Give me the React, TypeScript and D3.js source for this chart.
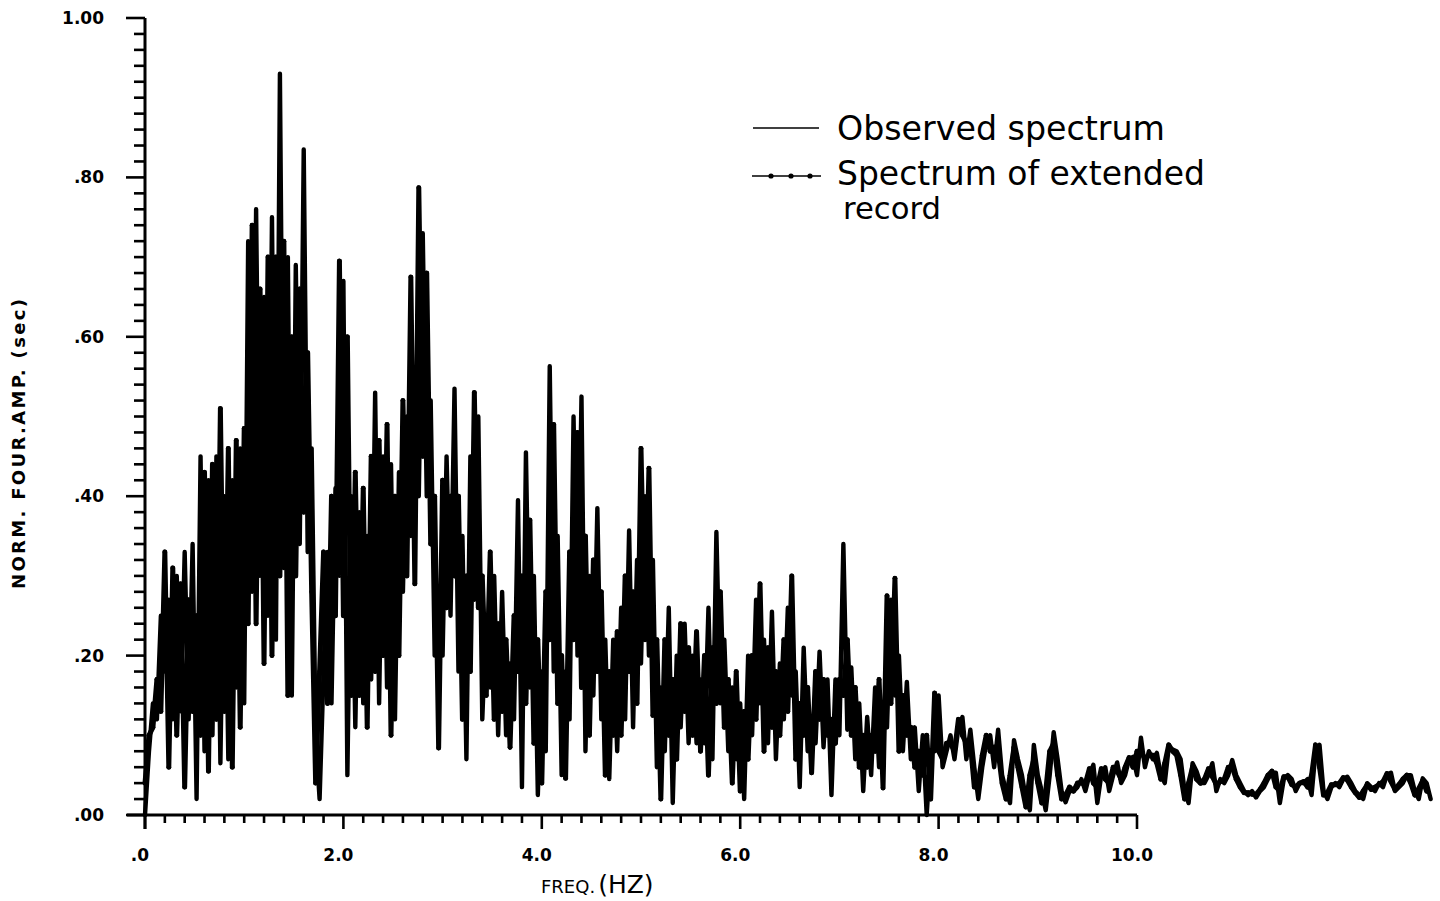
import React from "react";
import * as d3 from "d3";

const FREQ_STEP = 0.04;
const EXT_OFFSET = 0;

// Observed spectrum, normalised Fourier amplitude (sec)
const observedAmp = [
  0.00, 0.08, 0.14, 0.12, 0.25, 0.18, 0.27, 0.12, 0.30, 0.13,
  0.33, 0.12, 0.34, 0.02, 0.45, 0.08, 0.42, 0.10, 0.45, 0.065,
  0.40, 0.07, 0.42, 0.16, 0.46, 0.14, 0.72, 0.28, 0.76, 0.30,
  0.65, 0.25, 0.75, 0.22, 0.93, 0.31, 0.70, 0.15, 0.69, 0.34,
  0.835, 0.33, 0.46, 0.10, 0.02, 0.18, 0.33, 0.14, 0.41, 0.30,
  0.67, 0.05, 0.40, 0.11, 0.38, 0.14, 0.35, 0.17, 0.53, 0.14,
  0.45, 0.16, 0.44, 0.12, 0.43, 0.28, 0.50, 0.35, 0.56, 0.40,
  0.73, 0.40, 0.52, 0.20, 0.28, 0.20, 0.45, 0.25, 0.535, 0.18,
  0.35, 0.07, 0.45, 0.27, 0.50, 0.12, 0.25, 0.16, 0.30, 0.10,
  0.28, 0.10, 0.19, 0.12, 0.395, 0.035, 0.455, 0.16, 0.30, 0.025,
  0.18, 0.08, 0.563, 0.18, 0.35, 0.05, 0.18, 0.12, 0.50, 0.20,
  0.525, 0.08, 0.30, 0.15, 0.385, 0.12, 0.22, 0.045, 0.22, 0.08,
  0.26, 0.12, 0.357, 0.11, 0.32, 0.19, 0.40, 0.20, 0.32, 0.06,
  0.16, 0.08, 0.26, 0.015, 0.20, 0.11, 0.24, 0.09, 0.20, 0.09,
  0.17, 0.09, 0.26, 0.07, 0.355, 0.14, 0.22, 0.08, 0.16, 0.07,
  0.14, 0.02, 0.20, 0.10, 0.27, 0.14, 0.22, 0.09, 0.255, 0.07,
  0.19, 0.12, 0.26, 0.15, 0.18, 0.035, 0.21, 0.08, 0.12, 0.09,
  0.205, 0.085, 0.17, 0.025, 0.17, 0.10, 0.34, 0.107, 0.185, 0.07,
  0.14, 0.03, 0.123, 0.05, 0.16, 0.06, 0.12, 0.11, 0.27, 0.15,
  0.20, 0.08, 0.167, 0.07, 0.11, 0.03, 0.10, 0.00, 0.08, 0.08,
  0.15,
  0.06, 0.08, 0.10, 0.07, 0.11, 0.123, 0.07, 0.107, 0.06, 0.02,
  0.06, 0.09, 0.10, 0.06, 0.107, 0.05, 0.03, 0.015, 0.094, 0.07,
  0.05, 0.02, 0.006, 0.088, 0.05, 0.03, 0.006, 0.05, 0.104, 0.07,
  0.03, 0.016, 0.03, 0.03, 0.035, 0.045, 0.03, 0.05, 0.063, 0.015,
  0.05, 0.06, 0.03, 0.05, 0.066, 0.04, 0.05, 0.07, 0.073, 0.05,
  0.097, 0.06, 0.08, 0.07, 0.078, 0.05, 0.04, 0.085, 0.082, 0.08,
  0.07, 0.03, 0.015, 0.065, 0.055, 0.04, 0.04, 0.05, 0.065, 0.03,
  0.045, 0.04, 0.05, 0.069, 0.05, 0.04, 0.03, 0.025, 0.03, 0.022,
  0.03, 0.035, 0.045, 0.053, 0.053, 0.015, 0.045, 0.05, 0.045, 0.03,
  0.04, 0.04, 0.045, 0.025, 0.08, 0.088, 0.03, 0.02, 0.035, 0.04,
  0.035, 0.045, 0.048, 0.04, 0.03, 0.025, 0.02, 0.04, 0.035, 0.03,
  0.04, 0.035, 0.05, 0.053, 0.03, 0.035, 0.04, 0.05, 0.05, 0.03,
  0.02, 0.046, 0.04, 0.02,
];

// Spectrum of extended record
const extendedAmp = [
  0.04, 0.10, 0.11, 0.17, 0.13, 0.33, 0.06, 0.31, 0.10, 0.29,
  0.035, 0.27, 0.13, 0.25, 0.10, 0.43, 0.055, 0.44, 0.12, 0.51,
  0.13, 0.46, 0.06, 0.47, 0.11, 0.485, 0.24, 0.74, 0.24, 0.66,
  0.19, 0.70, 0.20, 0.70, 0.30, 0.72, 0.15, 0.60, 0.30, 0.66,
  0.38, 0.58, 0.28, 0.04, 0.18, 0.33, 0.14, 0.40, 0.25, 0.695,
  0.25, 0.60, 0.15, 0.43, 0.15, 0.41, 0.11, 0.45, 0.18, 0.47,
  0.20, 0.49, 0.10, 0.40, 0.20, 0.52, 0.30, 0.675, 0.29, 0.787,
  0.45, 0.68, 0.34, 0.40, 0.084, 0.42, 0.26, 0.40, 0.30, 0.40,
  0.12, 0.30, 0.18, 0.53, 0.26, 0.30, 0.15, 0.33, 0.12, 0.24,
  0.13, 0.22, 0.085, 0.25, 0.18, 0.30, 0.14, 0.37, 0.09, 0.22,
  0.04, 0.28, 0.22, 0.49, 0.14, 0.20, 0.046, 0.33, 0.22, 0.48,
  0.16, 0.35, 0.10, 0.32, 0.18, 0.28, 0.05, 0.18, 0.10, 0.23,
  0.10, 0.30, 0.18, 0.28, 0.14, 0.46, 0.22, 0.435, 0.125, 0.22,
  0.02, 0.22, 0.10, 0.17, 0.07, 0.24, 0.13, 0.21, 0.10, 0.23,
  0.08, 0.20, 0.05, 0.21, 0.14, 0.28, 0.11, 0.17, 0.04, 0.18,
  0.03, 0.13, 0.07, 0.20, 0.12, 0.29, 0.08, 0.21, 0.11, 0.18,
  0.10, 0.22, 0.13, 0.30, 0.07, 0.14, 0.10, 0.16, 0.053, 0.18,
  0.12, 0.17, 0.10, 0.12, 0.09, 0.17, 0.15, 0.22, 0.10, 0.16,
  0.06, 0.10, 0.06, 0.10, 0.08, 0.17, 0.034, 0.275, 0.14, 0.297,
  0.08, 0.15, 0.10, 0.11, 0.06, 0.08, 0.05, 0.10, 0.02, 0.153,
  0.08,
  0.07, 0.09, 0.09, 0.08, 0.12, 0.10, 0.09, 0.09, 0.035, 0.04,
  0.075, 0.10, 0.08, 0.085, 0.08, 0.04, 0.02, 0.05, 0.085, 0.06,
  0.035, 0.01, 0.05, 0.07, 0.04, 0.015, 0.03, 0.08, 0.09, 0.05,
  0.02, 0.025, 0.035, 0.03, 0.04, 0.04, 0.04, 0.058, 0.04, 0.035,
  0.058, 0.045, 0.04, 0.06, 0.055, 0.045, 0.06, 0.072, 0.06, 0.08,
  0.08, 0.07, 0.075, 0.075, 0.065, 0.045, 0.065, 0.088, 0.08, 0.075,
  0.05, 0.02, 0.04, 0.06, 0.045, 0.04, 0.045, 0.058, 0.048, 0.038,
  0.042, 0.045, 0.06, 0.06, 0.045, 0.035, 0.028, 0.028, 0.026, 0.026,
  0.032, 0.04, 0.05, 0.055, 0.035, 0.03, 0.048, 0.048, 0.038, 0.035,
  0.04, 0.042, 0.035, 0.05, 0.088, 0.06, 0.025, 0.028, 0.038, 0.038,
  0.04, 0.047, 0.044, 0.035, 0.028, 0.022, 0.03, 0.038, 0.032, 0.035,
  0.038, 0.042, 0.052, 0.042, 0.032, 0.038, 0.045, 0.05, 0.04, 0.025,
  0.033, 0.043, 0.03,
];

const xTickValues = [0, 2, 4, 6, 8, 10];
const xTickLabels = [".0", "2.0", "4.0", "6.0", "8.0", "10.0"];
const yTickValues = [0, 0.2, 0.4, 0.6, 0.8, 1.0];
const yTickLabels = [".00", ".20", ".40", ".60", ".80", "1.00"];
const seriesNames = ["Observed spectrum", "Spectrum of extended", "record"];
const xAxisTitle = ["FREQ.", "(HZ)"];
const yAxisTitle = "NORM. FOUR.AMP. (sec)";

export default function App() {
  const x = d3.scaleLinear().domain([0, 10]).range([145, 1137]);
  const y = d3.scaleLinear().domain([0, 1]).range([815, 18]);

  const obsPts: [number, number][] = observedAmp.map((v, i) => [i * FREQ_STEP, v]);
  const extPts: [number, number][] = extendedAmp.map((v, i) => [i * FREQ_STEP + EXT_OFFSET, v]);

  const line = d3
    .line<[number, number]>()
    .x((d) => x(d[0]))
    .y((d) => y(d[1]));

  const xMinor = d3.range(0, 51).map((i) => i * 0.2);
  const yMinor = d3.range(0, 51).map((i) => i * 0.02);

  const tickFont = "'DejaVu Sans', sans-serif";

  return (
    <svg
      width={1440}
      height={901}
      viewBox="0 0 1440 901"
      style={{ position: "absolute", left: 0, top: 0, display: "block", background: "#fff" }}
    >
      <rect x={0} y={0} width={1440} height={901} fill="#fff" />

      {/* data */}
      <path
        d={line(extPts) || ""}
        fill="none"
        stroke="#000"
        strokeWidth={5}
        strokeLinejoin="round"
        strokeLinecap="round"
      />
      {extPts.map((d, i) => (
        <circle key={"e" + i} cx={x(d[0])} cy={y(d[1])} r={2.4} fill="#000" />
      ))}
      <path
        d={line(obsPts) || ""}
        fill="none"
        stroke="#000"
        strokeWidth={4.4}
        strokeLinejoin="round"
        strokeLinecap="round"
      />

      {/* y axis */}
      <line x1={x(0)} y1={y(1)} x2={x(0)} y2={y(0) + 14} stroke="#000" strokeWidth={3} />
      {yMinor.map((v, i) => {
        const major = i % 10 === 0;
        return (
          <line
            key={"ym" + i}
            x1={x(0) - (major ? 19 : 11)}
            x2={x(0)}
            y1={y(v)}
            y2={y(v)}
            stroke="#000"
            strokeWidth={2.6}
          />
        );
      })}
      {yTickValues.map((v, i) => (
        <text
          key={"yl" + i}
          x={104}
          y={y(v) + 6}
          textAnchor="end"
          fontFamily={tickFont}
          fontWeight={900}
          fontSize={17}
          fill="#000"
        >
          {yTickLabels[i]}
        </text>
      ))}

      {/* x axis */}
      <line x1={127} y1={y(0)} x2={x(10)} y2={y(0)} stroke="#000" strokeWidth={3} />
      {xMinor.map((v, i) => {
        const major = i % 10 === 0;
        return (
          <line
            key={"xm" + i}
            x1={x(v)}
            x2={x(v)}
            y1={y(0)}
            y2={y(0) + (major ? 14 : 8)}
            stroke="#000"
            strokeWidth={2.6}
          />
        );
      })}
      {xTickValues.map((v, i) => (
        <text
          key={"xl" + i}
          x={x(v) - 5}
          y={861}
          textAnchor="middle"
          fontFamily={tickFont}
          fontWeight={900}
          fontSize={17}
          fill="#000"
        >
          {xTickLabels[i]}
        </text>
      ))}

      {/* axis titles */}
      <text x={541} y={893} fontFamily={tickFont} fill="#000">
        <tspan fontSize={18}>{xAxisTitle[0]}</tspan>
        <tspan fontSize={25} dx={3}>{xAxisTitle[1]}</tspan>
      </text>
      <text
        transform="translate(25,444) rotate(-90)"
        textAnchor="middle"
        fontFamily={tickFont}
        fontSize={18}
        fontWeight={600}
        textLength={290}
        lengthAdjust="spacing"
        fill="#000"
      >
        {yAxisTitle}
      </text>

      {/* legend */}
      <line x1={753} y1={128} x2={819} y2={128} stroke="#000" strokeWidth={1.6} />
      <line x1={752} y1={176} x2={821} y2={176} stroke="#000" strokeWidth={1.6} />
      {[771, 791, 810].map((cx) => (
        <circle key={"ld" + cx} cx={cx} cy={176} r={2.6} fill="#000" />
      ))}
      <text
        x={837}
        y={140}
        fontFamily={tickFont}
        fontSize={33}
        textLength={328}
        lengthAdjust="spacingAndGlyphs"
        fill="#000"
      >
        {seriesNames[0]}
      </text>
      <text
        x={837}
        y={185}
        fontFamily={tickFont}
        fontSize={33}
        textLength={368}
        lengthAdjust="spacingAndGlyphs"
        fill="#000"
      >
        {seriesNames[1]}
      </text>
      <text
        x={843}
        y={219}
        fontFamily={tickFont}
        fontSize={31}
        textLength={98}
        lengthAdjust="spacingAndGlyphs"
        fill="#000"
      >
        {seriesNames[2]}
      </text>
    </svg>
  );
}
